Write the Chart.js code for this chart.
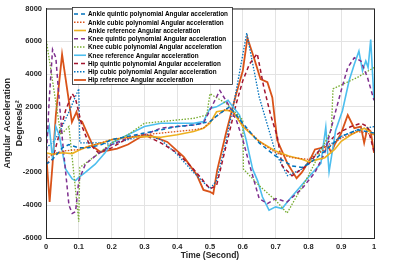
<!DOCTYPE html>
<html>
<head>
<meta charset="utf-8">
<script src="https://cdn.jsdelivr.net/npm/chart.js@4.4.1/dist/chart.umd.min.js"></script>
<style>
  html, body { margin: 0; padding: 0; background: #fff; }
  #wrap { width: 411px; height: 262px; }
</style>
</head>
<body>
<div id="wrap"><canvas id="accChart" width="411" height="262"></canvas></div>
<script>
// Series names, in legend order
const seriesNames = [
    'Ankle quintic polynomial Angular acceleration',
    'Ankle cubic polynomial Angular acceleration',
    'Ankle reference Angular acceleration',
    'Knee quintic polynomial Angular acceleration',
    'Knee cubic polynomial Angular acceleration',
    'Knee reference Angular acceleration',
    'Hip quintic polynomial Angular acceleration',
    'Hip cubic polynomial Angular acceleration',
    'Hip reference Angular acceleration'
];

// Axis ticks
const xTicks = [0, 0.1, 0.2, 0.3, 0.4, 0.5, 0.6, 0.7, 0.8, 0.9, 1];
const yTicks = [-6000, -4000, -2000, 0, 2000, 4000, 6000, 8000];

// Ankle (time in s, acceleration in deg/s^2)
const ankleQuinticT = [0, 0.02, 0.05, 0.07, 0.1, 0.13, 0.17, 0.2, 0.25, 0.3, 0.35, 0.4, 0.45, 0.5, 0.53, 0.56, 0.6, 0.65, 0.7, 0.75, 0.78, 0.8, 0.85, 0.9, 0.95, 1.0];
const ankleQuinticY = [-1500, -1200, -500, -300, -500, -500, -300, 0, 200, 400, 600, 800, 900, 1100, 1600, 2000, 1000, -200, -1000, -1600, -1700, -1500, -700, 200, 600, 400];

const ankleCubicT = [0, 0.02, 0.05, 0.1, 0.15, 0.2, 0.25, 0.3, 0.35, 0.4, 0.45, 0.48, 0.5, 0.55, 0.58, 0.6, 0.65, 0.7, 0.75, 0.8, 0.85, 0.9, 0.95, 1.0];
const ankleCubicY = [-1200, -900, -700, -600, -300, 0, 150, 300, 400, 500, 600, 700, 1100, 1900, 1500, 900, -100, -800, -1100, -1200, -600, 100, 500, 300];

const ankleRefT = [0, 0.02, 0.05, 0.08, 0.1, 0.13, 0.17, 0.2, 0.25, 0.3, 0.35, 0.4, 0.45, 0.48, 0.5, 0.52, 0.55, 0.57, 0.6, 0.65, 0.7, 0.74, 0.78, 0.8, 0.82, 0.85, 0.88, 0.9, 0.93, 0.95, 0.97, 1.0];
const ankleRefY = [-800, -900, -800, -850, -650, -400, -200, 0, 150, 200, 150, 300, 500, 700, 1000, 1700, 1800, 1700, 800, -100, -700, -1000, -1200, -1350, -1250, -1100, -600, -100, 300, 500, 700, 300];

// Knee
const kneeQuinticT = [0, 0.01, 0.02, 0.03, 0.05, 0.07, 0.08, 0.09, 0.1, 0.12, 0.15, 0.2, 0.25, 0.3, 0.35, 0.4, 0.45, 0.48, 0.5, 0.53, 0.56, 0.58, 0.6, 0.62, 0.65, 0.675, 0.7, 0.735, 0.78, 0.82, 0.85, 0.88, 0.9, 0.92, 0.94, 0.96, 0.98, 1.0];
const kneeQuinticY = [-1500, 2500, 5500, 5000, 0, -4000, -4500, -4400, -2500, -1500, -1000, -300, 100, 300, 700, 800, 900, 1000, 1800, 3000, 2000, 1200, 0, -1500, -3600, -3900, -3600, -3800, -3000, -2000, -800, 1500, 3000, 4400, 5000, 4800, 3800, 2400];

const kneeCubicT = [0, 0.045, 0.07, 0.1, 0.103, 0.15, 0.2, 0.25, 0.3, 0.35, 0.4, 0.45, 0.49, 0.5, 0.55, 0.6, 0.602, 0.65, 0.7, 0.735, 0.8, 0.87, 0.875, 0.95, 1.0];
const kneeCubicY = [6200, 300, 800, -5000, -1700, -1000, -200, 300, 1000, 1100, 1200, 1300, 1500, 2800, 2200, 1200, -1800, -2800, -3700, -4480, -2200, 600, 3100, 3800, 4400];

const kneeRefT = [0, 0.01, 0.02, 0.03, 0.04, 0.06, 0.08, 0.09, 0.1, 0.12, 0.15, 0.18, 0.2, 0.25, 0.3, 0.35, 0.4, 0.45, 0.48, 0.5, 0.52, 0.555, 0.57, 0.59, 0.61, 0.63, 0.645, 0.66, 0.68, 0.7, 0.72, 0.74, 0.77, 0.8, 0.838, 0.853, 0.863, 0.883, 0.904, 0.924, 0.94, 0.954, 0.965, 0.975, 0.982, 0.99, 1.0];
const kneeRefY = [0, 800, -1200, 800, 300, -1800, -2400, -2500, -2300, -2000, -1500, -800, -200, 300, 800, 1000, 1000, 1000, 1100, 1900, 2000, 2400, 2000, 1500, 0, -1800, -2500, -3500, -4300, -4100, -4200, -3700, -3000, -2300, -1450, 760, -1960, 560, 1780, 3590, 4600, 5400, 4200, 4800, 4400, 6100, 2400];

// Hip
const hipQuinticT = [0, 0.02, 0.04, 0.06, 0.08, 0.09, 0.11, 0.13, 0.16, 0.2, 0.25, 0.3, 0.35, 0.4, 0.45, 0.5, 0.52, 0.55, 0.58, 0.6, 0.62, 0.644, 0.664, 0.685, 0.705, 0.72, 0.75, 0.78, 0.8, 0.84, 0.88, 0.9, 0.93, 0.96, 0.98, 1.0];
const hipQuinticY = [-1500, -1200, 300, 1800, 2800, 2500, 800, -200, -800, -500, 100, 300, -200, -800, -1800, -3000, -2800, -300, 2200, 3600, 4600, 5250, 3200, 1500, 200, -1600, -2200, -1800, -1500, -500, 200, 500, 800, 1000, 800, -700];

const hipCubicT = [0, 0.02, 0.04, 0.07, 0.1, 0.103, 0.17, 0.2, 0.25, 0.3, 0.35, 0.4, 0.45, 0.5, 0.52, 0.55, 0.58, 0.612, 0.65, 0.7, 0.736, 0.78, 0.85, 0.87, 0.9, 0.95, 1.0];
const hipCubicY = [-500, -200, 400, 1700, 3100, -200, -200, -300, 0, 300, 0, -900, -2000, -3000, -2500, 0, 3000, 6500, 2600, -800, -2200, -1800, -300, -250, 200, 600, 800];

const hipRefT = [0, 0.011, 0.02, 0.03, 0.049, 0.065, 0.079, 0.093, 0.1, 0.11, 0.13, 0.145, 0.166, 0.217, 0.25, 0.288, 0.318, 0.37, 0.42, 0.46, 0.48, 0.5, 0.51, 0.522, 0.55, 0.58, 0.6, 0.614, 0.634, 0.654, 0.675, 0.69, 0.705, 0.736, 0.764, 0.78, 0.807, 0.82, 0.84, 0.86, 0.87, 0.88, 0.9, 0.92, 0.94, 0.96, 0.97, 0.98, 0.99, 1.0];
const hipRefY = [-700, -3800, -1500, 1500, 5200, 3000, 1070, 1700, 1200, 1100, 200, -450, -750, -550, -300, 160, 260, -140, -1050, -2160, -3070, -3180, -3300, -1860, 500, 2800, 4200, 6200, 5000, 3700, 3500, 2580, -40, -1450, -2350, -2000, -1140, -600, -500, -400, -800, -300, 400, 1500, 700, 800, -200, 700, 500, -800];

// Pair the time and value arrays into {x, y} points for Chart.js
function pts(t, y) {
    return t.map((v, i) => ({ x: v, y: y[i] }));
}

const seriesData = [
    pts(ankleQuinticT, ankleQuinticY),
    pts(ankleCubicT, ankleCubicY),
    pts(ankleRefT, ankleRefY),
    pts(kneeQuinticT, kneeQuinticY),
    pts(kneeCubicT, kneeCubicY),
    pts(kneeRefT, kneeRefY),
    pts(hipQuinticT, hipQuinticY),
    pts(hipCubicT, hipCubicY),
    pts(hipRefT, hipRefY)
];

// MATLAB-ish colours and line styles
const colors = ['#0072BD', '#D95319', '#EDB120', '#7E2F8E', '#77AC30', '#4DBEEE', '#A2142F', '#0072BD', '#D95319'];
const dashes = [[4, 3], [1.5, 1.5], [], [4, 3], [1.5, 1.5], [], [4, 3], [1.5, 1.5], []];
const widths = [1.5, 1.3, 1.6, 1.5, 1.3, 1.6, 1.5, 1.3, 1.8];

Chart.defaults.font.family = "'Liberation Sans', Arial, sans-serif";
Chart.defaults.color = '#262626';

// Legend box drawn inside the plot (top-left), like the MATLAB figure
const insideLegend = {
    id: 'insideLegend',
    afterDraw(chart) {
        const c = chart.ctx;
        const box = { x: 72, y: 7, w: 160, h: 77 };
        c.save();
        c.fillStyle = '#fff';
        c.fillRect(box.x, box.y, box.w, box.h);
        c.strokeStyle = '#262626';
        c.lineWidth = 0.8;
        c.strokeRect(box.x + 0.5, box.y + 0.5, box.w, box.h);
        // size the font so the longest entry fits
        let size = 7;
        c.font = 'bold ' + size + "px 'Liberation Sans', Arial";
        const w = c.measureText(seriesNames[0]).width;
        size = size * 140 / w;
        c.font = 'bold ' + size.toFixed(2) + "px 'Liberation Sans', Arial";
        c.textBaseline = 'middle';
        c.fillStyle = '#000';
        chart.data.datasets.forEach((ds, i) => {
            const y = 14 + i * 8.25;
            c.strokeStyle = ds.borderColor;
            c.lineWidth = ds.borderWidth;
            c.setLineDash(ds.borderDash || []);
            c.beginPath();
            c.moveTo(74, y);
            c.lineTo(86, y);
            c.stroke();
            c.setLineDash([]);
            c.fillText(ds.label, 88, y + 0.5);
        });
        c.restore();
    }
};

// Full axes box (top and right edges too)
const axesBox = {
    id: 'axesBox',
    afterDatasetsDraw(chart) {
        const a = chart.chartArea;
        const c = chart.ctx;
        c.save();
        c.strokeStyle = '#262626';
        c.lineWidth = 1;
        c.strokeRect(a.left + 0.5, a.top + 0.5, a.right - a.left, a.bottom - a.top);
        c.restore();
    }
};

new Chart(document.getElementById('accChart').getContext('2d'), {
    type: 'line',
    data: {
        datasets: seriesData.map((d, i) => ({
            label: seriesNames[i],
            data: d,
            borderColor: colors[i],
            backgroundColor: colors[i],
            borderDash: dashes[i],
            borderWidth: widths[i],
            pointRadius: 0,
            tension: 0,
            fill: false
        }))
    },
    options: {
        responsive: false,
        animation: false,
        layout: { padding: { top: 7, right: 37, left: 0, bottom: 0 } },
        plugins: {
            legend: { display: false },
            tooltip: { enabled: false }
        },
        scales: {
            x: {
                type: 'linear',
                min: 0,
                max: 1,
                afterBuildTicks: (scale) => { scale.ticks = xTicks.map(v => ({ value: v })); },
                afterFit: (scale) => { scale.height = 24; },
                grid: { color: '#e3e3e3', drawTicks: false },
                border: { color: '#262626' },
                ticks: {
                    padding: 4,
                    maxRotation: 0,
                    font: { size: 7.5, weight: 'bold' },
                    callback: (v) => String(Math.round(v * 10) / 10)
                },
                title: {
                    display: true,
                    text: 'Time (Second)',
                    font: { size: 8.5, weight: 'bold' },
                    padding: { top: 0, bottom: 1 }
                }
            },
            y: {
                min: -6000,
                max: 8000,
                afterBuildTicks: (scale) => { scale.ticks = yTicks.map(v => ({ value: v })); },
                afterFit: (scale) => { scale.width = 46; },
                grid: { color: '#e3e3e3', drawTicks: false },
                border: { color: '#262626' },
                ticks: {
                    padding: 4,
                    font: { size: 7.5, weight: 'bold' },
                    callback: (v) => String(v)
                },
                title: {
                    display: true,
                    text: ['Angular Acceleration', 'Degrees/s\u00b2'],
                    font: { size: 9, weight: 'bold', lineHeight: 1.3 },
                    padding: { top: 2, bottom: 0 }
                }
            }
        }
    },
    plugins: [axesBox, insideLegend]
});
</script>
</body>
</html>
